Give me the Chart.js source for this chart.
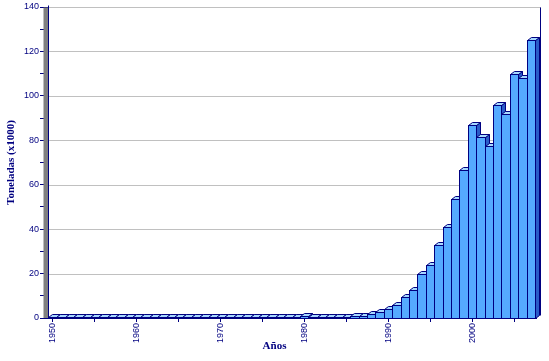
<!DOCTYPE html>
<html lang="es">
    <head>
        <title> Toneladas por año </title>
        <script src="https://cdn.jsdelivr.net/npm/chart.js@4.4.0/dist/chart.umd.min.js"></script>
        <style>
            html, body { margin: 0; padding: 0; background: #ffffff; }
        </style>
    </head>

    <body>
        <canvas id="grafico" width="549" height="361"></canvas>

        <script>

            // años 1950 .. 2007
            const Anos = [];
            for (let a = 1950; a <= 2007; a++) Anos.push (String (a));

            // toneladas (x1000)
            const Toneladas = [
                0.3, 0.3, 0.3, 0.3, 0.3, 0.3, 0.3, 0.3, 0.3, 0.3,      // 1950-1959
                0.3, 0.3, 0.3, 0.3, 0.3, 0.3, 0.3, 0.3, 0.3, 0.3,      // 1960-1969
                0.3, 0.3, 0.3, 0.3, 0.3, 0.3, 0.3, 0.3, 0.3, 0.3,      // 1970-1979
                1.0, 0.6, 0.4, 0.6, 0.6, 0.6, 0.8, 1.0, 1.6, 2.5,      // 1980-1989
                4.0, 6.0, 9.4, 12.7, 20.0, 24.0, 32.7, 41.0, 53.7, 66.5, // 1990-1999
                87.0, 81.5, 77.5, 96.0, 92.0, 110.0, 108.0, 125.0       // 2000-2007
            ];

            const MarcasY = [0, 20, 40, 60, 80, 100, 120, 140];

            const AZUL_OSCURO = '#000080';
            const FRENTE = '#55aaff';
            const TAPA = '#a6d8ff';
            const LADO = '#2a5cc8';
            const PROF_X = 4;
            const PROF_Y = -3;
            const LETRA_EJES = "'Liberation Sans Narrow', 'Liberation Sans', Arial";
            const LETRA_TITULOS = "'Liberation Serif', 'Times New Roman', serif";

            const barras3D = {
                id: 'barras3D',
                beforeDatasetsDraw (chart) {
                    const { ctx, chartArea } = chart;
                    const y = chart.scales.y;
                    ctx.save ();
                    // rejilla
                    ctx.strokeStyle = '#c0c0c0';
                    ctx.lineWidth = 1;
                    MarcasY.forEach (v => {
                        if (v === 0) return;
                        const py = Math.round (y.getPixelForValue (v)) + 0.5;
                        ctx.beginPath ();
                        ctx.moveTo (chartArea.left, py);
                        ctx.lineTo (chartArea.right + 6, py);
                        ctx.stroke ();
                    });
                    // pared izquierda
                    const top = Math.round (chartArea.top) + 0.5;
                    const bottom = Math.round (chartArea.bottom) + 0.5;
                    const l = Math.round (chartArea.left) - 5 + 0.5;
                    ctx.fillStyle = '#808080';
                    ctx.fillRect (l, top, 5, bottom - top);
                    ctx.strokeStyle = AZUL_OSCURO;
                    ctx.beginPath ();
                    ctx.moveTo (l + 5, top - 2);
                    ctx.lineTo (l + 5, bottom);
                    ctx.stroke ();
                    // linea derecha
                    const r = Math.round (chartArea.right) + 5 + 0.5;
                    ctx.beginPath ();
                    ctx.moveTo (r, top);
                    ctx.lineTo (r, bottom - 3);
                    ctx.stroke ();
                    ctx.restore ();
                },
                afterDatasetsDraw (chart) {
                    const { ctx } = chart;
                    const meta = chart.getDatasetMeta (0);
                    ctx.save ();
                    ctx.lineWidth = 1;
                    ctx.strokeStyle = AZUL_OSCURO;
                    meta.data.forEach (barra => {
                        const p = barra.getProps (['x', 'y', 'base', 'width'], true);
                        const izq = Math.round (p.x - p.width / 2) + 0.5;
                        const der = Math.round (p.x + p.width / 2) + 0.5;
                        const arr = Math.round (p.y) + 0.5;
                        const base = Math.round (p.base) + 0.5;

                        // lado
                        ctx.fillStyle = LADO;
                        ctx.beginPath ();
                        ctx.moveTo (der, arr);
                        ctx.lineTo (der + PROF_X, arr + PROF_Y);
                        ctx.lineTo (der + PROF_X, base + PROF_Y);
                        ctx.lineTo (der, base);
                        ctx.closePath ();
                        ctx.fill ();
                        ctx.stroke ();

                        // tapa
                        ctx.fillStyle = TAPA;
                        ctx.beginPath ();
                        ctx.moveTo (izq, arr);
                        ctx.lineTo (izq + PROF_X, arr + PROF_Y);
                        ctx.lineTo (der + PROF_X, arr + PROF_Y);
                        ctx.lineTo (der, arr);
                        ctx.closePath ();
                        ctx.fill ();
                        ctx.stroke ();

                        // frente
                        ctx.fillStyle = FRENTE;
                        ctx.fillRect (izq, arr, der - izq, base - arr);
                        ctx.strokeRect (izq, arr, der - izq, base - arr);
                    });
                    // piso
                    const area = chart.chartArea;
                    const py = Math.round (area.bottom) + 0.5;
                    ctx.beginPath ();
                    ctx.moveTo (area.left - 5, py);
                    ctx.lineTo (area.right + 2, py);
                    ctx.stroke ();
                    ctx.restore ();
                },
                afterDraw (chart) {
                    // etiquetas de años giradas y titulo del eje x
                    const { ctx, chartArea } = chart;
                    const x = chart.scales.x;
                    ctx.save ();
                    ctx.fillStyle = AZUL_OSCURO;
                    ctx.font = '9px ' + LETRA_EJES;
                    ctx.textAlign = 'right';
                    ctx.textBaseline = 'middle';
                    Anos.forEach ((a, i) => {
                        if (Number (a) % 10 !== 0) return;
                        ctx.save ();
                        ctx.translate (Math.round (x.getPixelForValue (i)) + 0.5, chartArea.bottom + 5);
                        ctx.rotate (-Math.PI / 2);
                        ctx.fillText (a, 0, 0);
                        ctx.restore ();
                    });
                    ctx.font = 'bold 11px ' + LETRA_TITULOS;
                    ctx.textAlign = 'center';
                    ctx.fillText ('Años', chart.width / 2, chartArea.bottom + 28);
                    ctx.restore ();
                }
            };

            const ctx = document.getElementById ('grafico').getContext ('2d');
            const grafico = new Chart (ctx, {
                type: 'bar',
                data: {
                    labels: Anos,
                    datasets: [{
                        data: Toneladas,
                        backgroundColor: 'rgba(0,0,0,0)',
                        borderWidth: 0,
                        categoryPercentage: 1,
                        barPercentage: 1
                    }]
                },
                options: {
                    responsive: false,
                    animation: false,
                    layout: { padding: { top: 7, right: 14, left: 0, bottom: 0 } },
                    plugins: {
                        legend: { display: false },
                        tooltip: { enabled: false }
                    },
                    scales: {
                        x: {
                            afterFit: escala => { escala.height = 43; },
                            grid: {
                                offset: false,
                                drawOnChartArea: false,
                                tickLength: 4,
                                color: AZUL_OSCURO
                            },
                            border: { display: false },
                            ticks: {
                                autoSkip: false,
                                maxRotation: 0,
                                callback: function (valor) {
                                    const a = Number (this.getLabelForValue (valor));
                                    return a % 5 === 0 ? '' : null;
                                }
                            }
                        },
                        y: {
                            min: 0,
                            max: 140,
                            afterFit: escala => { escala.width = 48; },
                            grid: {
                                drawOnChartArea: false,
                                tickLength: 8,
                                color: AZUL_OSCURO
                            },
                            border: { display: false },
                            ticks: {
                                stepSize: 10,
                                padding: 1,
                                color: AZUL_OSCURO,
                                font: { family: LETRA_EJES, size: 9 },
                                callback: v => (v % 20 === 0 ? v : '')
                            },
                            title: {
                                display: true,
                                text: 'Toneladas (x1000)',
                                color: AZUL_OSCURO,
                                padding: { top: 5, bottom: 0 },
                                font: { family: LETRA_TITULOS, size: 11, weight: 'bold' }
                            }
                        }
                    }
                },
                plugins: [barras3D]
            });

        </script>
    </body>
</html>
